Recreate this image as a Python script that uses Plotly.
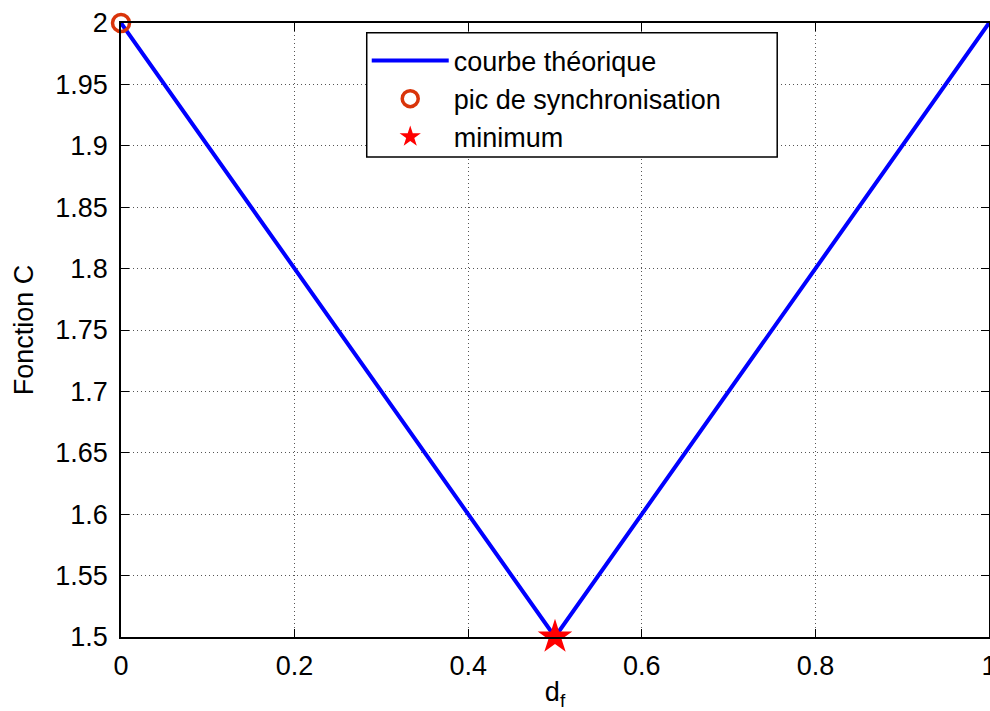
import plotly.graph_objects as go

x_curve = [0, 0.5, 1]
y_curve = [2, 1.5, 2]
peak_x = [0]
peak_y = [2]
min_x = [0.5]
min_y = [1.5]

x_ticks = [0, 0.2, 0.4, 0.6, 0.8, 1]
x_ticktext = ["0", "0.2", "0.4", "0.6", "0.8", "1"]
y_ticks = [1.5, 1.55, 1.6, 1.65, 1.7, 1.75, 1.8, 1.85, 1.9, 1.95, 2]
y_ticktext = ["1.5", "1.55", "1.6", "1.65", "1.7", "1.75", "1.8", "1.85", "1.9", "1.95", "2"]

fig = go.Figure()
fig.add_trace(go.Scatter(x=x_curve, y=y_curve, mode="lines", name="courbe théorique",
                         line=dict(color="#0000FF", width=4), cliponaxis=False))
fig.add_trace(go.Scatter(x=peak_x, y=peak_y, mode="markers", name="pic de synchronisation",
                         marker=dict(symbol="circle-open", size=17, color="#D9340A",
                                     line=dict(width=3.5, color="#D9340A")), cliponaxis=False))
fig.add_trace(go.Scatter(x=min_x, y=min_y, mode="markers", name="minimum",
                         marker=dict(symbol="star", size=26, color="#FF0000",
                                     line=dict(width=0)), cliponaxis=False))

axis_common = dict(showline=True, linecolor="black", linewidth=1.5, mirror="ticks",
                   ticks="inside", ticklen=8, tickcolor="black", tickwidth=1,
                   showgrid=True, gridcolor="#555555", griddash="1px,3px", gridwidth=1,
                   zeroline=False, tickfont=dict(size=27, color="black"),
                   ticklabeloverflow="allow", automargin=False)

# legend frame (drawn as a paper-referenced rectangle so it can be wider than the text)
fig.add_shape(type="rect", xref="paper", yref="paper",
              x0=0.2831, x1=0.756, y0=0.7818, y1=0.984,
              line=dict(color="black", width=1.5), fillcolor="white", layer="above")

fig.update_layout(
    width=990, height=711,
    margin=dict(l=121, r=1, t=23, b=74),
    paper_bgcolor="white", plot_bgcolor="white",
    font=dict(family="Liberation Sans, Arial, sans-serif", color="black", size=27),
    showlegend=True,
    legend=dict(x=0.2831, y=0.978, xanchor="left", yanchor="top",
                borderwidth=0, bgcolor="rgba(0,0,0,0)",
                font=dict(size=27), itemwidth=77, tracegroupgap=0),
    xaxis=dict(range=[0, 1], tickvals=x_ticks, ticktext=x_ticktext,
               ticklabelstandoff=4,
               title=dict(text="d<sub>f</sub>", standoff=2, font=dict(size=27)),
               **axis_common),
    yaxis=dict(range=[1.5, 2], tickvals=y_ticks, ticktext=y_ticktext,
               ticklabelstandoff=6,
               title=dict(text="Fonction C", standoff=14, font=dict(size=27)),
               **axis_common),
)

fig.write_html("out.html", config={"displayModeBar": False},
               post_script="document.body.style.margin='0';document.body.style.overflow='hidden';")
